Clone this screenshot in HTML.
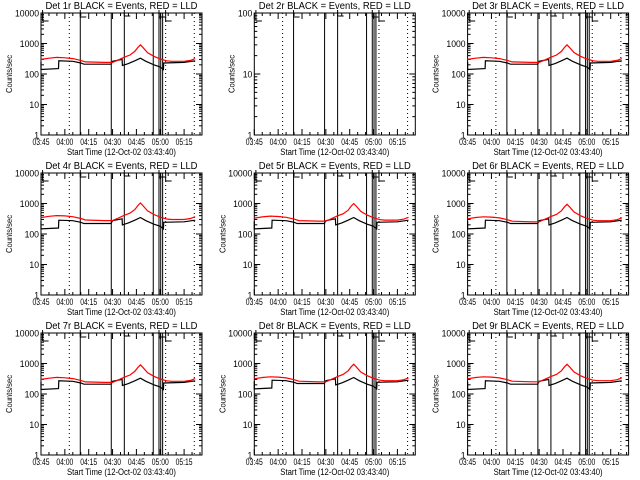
<!DOCTYPE html>
<html><head><meta charset="utf-8"><style>
html,body{margin:0;padding:0;background:#fff;}
svg{display:block;font-family:"Liberation Sans",sans-serif;}
</style></head><body>
<svg id="chart" width="640" height="480" viewBox="0 0 640 480" xmlns="http://www.w3.org/2000/svg"></svg>
<script>
// data (minutes after 03:45)
const panelNames = ["Det 1r","Det 2r","Det 3r","Det 4r","Det 5r","Det 6r","Det 7r","Det 8r","Det 9r"];
const redT = [-1,5,10,15,20,25,28,40,45,48,52,56,59,61,62.5,64,67,71,75,79,82,90,94,97];
const redV = [300,330,350,340,320,280,250,240,240,280,350,420,550,750,900,750,500,380,310,270,260,260,280,320];
const blackT = [-1,-0.6,11,11.2,20,25,27,44,45,51,51.2,55,59,62.5,66,71,75,77,77.2,90,97];
const blackV = [250,140,150,270,260,230,210,210,260,300,190,220,270,330,260,200,170,140,230,240,270];
const redScale = [1,0,1,1.15,1.1,1.05,1,1.05,1.05];
const blackScale = [1,0,1,1.05,1.05,1.05,1,1.05,1];
const solidLines = [24.7,44.2,52.4,70.6,74.2,75.3,76.5];
const dottedLines = [17.8,78.4,96.4];
const xTicks = [0,15,30,45,60,75,90];
const xTickLabels = ["03:45","04:00","04:15","04:30","04:45","05:00","05:15"];

const svg = document.getElementById('chart');
const NS = "http://www.w3.org/2000/svg";
function mk(tag, attrs, parent){const e=document.createElementNS(NS,tag);for(const k in attrs)e.setAttribute(k,attrs[k]);(parent||svg).appendChild(e);return e;}

for(let p=0;p<9;p++){
  const c=p%3, r=Math.floor(p/3);
  const L=41+213.3*c, R=L+161, T=13+160*r, B=T+122;
  const g=mk('g',{});
  
  
  const empty = p===1;
  const decades = empty?2:4;
  const ppd=(B-T)/decades;
  const xs=t=>L+t*1.59;
  const ys=v=>B-Math.log10(v)*ppd;
  const fr=mk('rect',{x:L,y:T,width:R-L,height:B-T,fill:'none',stroke:'#000','stroke-width':1},g);
  
  
  for(let d=0;d<=decades;d++){
    const y=ys(Math.pow(10,d));
    mk('line',{x1:L,x2:L+6,y1:y,y2:y,stroke:'#000'},g);
    mk('line',{x1:R,x2:R-6,y1:y,y2:y,stroke:'#000'},g);
    const s=String(Math.pow(10,d));
    const tl=mk('text',{x:L-2,y:y+3.5,'font-size':9,'text-anchor':'end',textLength:s.length*4.8,lengthAdjust:'spacingAndGlyphs'},g);
    tl.textContent=s;
    
    
    if(d<decades){for(let m=2;m<=9;m++){const ym=ys(m*Math.pow(10,d));
      mk('line',{x1:L,x2:L+3,y1:ym,y2:ym,stroke:'#000'},g);
      mk('line',{x1:R,x2:R-3,y1:ym,y2:ym,stroke:'#000'},g);}}
  }
  for(let m=0;m<=100;m+=5){const x=xs(m);if(x>R)break;const len=m%15===0?6:3;
    mk('line',{x1:x,x2:x,y1:B,y2:B-len,stroke:'#000'},g);
    mk('line',{x1:x,x2:x,y1:T,y2:T+len,stroke:'#000'},g);}
  xTicks.forEach((t,i)=>{const tl=mk('text',{x:xs(t),y:B+10,'font-size':9,'text-anchor':'middle',textLength:17,lengthAdjust:'spacingAndGlyphs'},g);
    tl.textContent=xTickLabels[i];
    
    });
  solidLines.forEach(t=>mk('line',{x1:xs(t),x2:xs(t),y1:T,y2:B,stroke:'#000'},g));
  dottedLines.forEach(t=>mk('line',{x1:xs(t),x2:xs(t),y1:T,y2:B,stroke:'#000','stroke-dasharray':'1,3'},g));
  [[1,8],[24.7,4],[52.4,3],[74.2,4],[78.4,8]].forEach(([t,h])=>{
    mk('line',{x1:xs(t),x2:xs(t),y1:T-3,y2:T+h,stroke:'#000'},g);
    mk('line',{x1:xs(t),x2:xs(t)+6,y1:T+h,y2:T+h,stroke:'#000'},g);});
  if(!empty){
    const bp=blackT.map((t,i)=>xs(t<0?0:t).toFixed(1)+','+ys(blackV[i]*blackScale[p]).toFixed(1)).join(' ');
    const bl=mk('polyline',{points:bp,fill:'none',stroke:'#000','stroke-width':1.2},g);
    
    
    const rp=redT.map((t,i)=>xs(t<0?0:t).toFixed(1)+','+ys(redV[i]*redScale[p]).toFixed(1)).join(' ');
    const rl=mk('polyline',{points:rp,fill:'none',stroke:'#ff0000','stroke-width':1.2},g);
    
    
  }
  const tt=mk('text',{x:(L+R)/2,y:T-4,'font-size':10,'text-anchor':'middle',textLength:152,lengthAdjust:'spacingAndGlyphs'},g);
  tt.textContent=panelNames[p]+' BLACK = Events, RED = LLD';
  
  
  const xt=mk('text',{x:(L+R)/2,y:B+20,'font-size':9,'text-anchor':'middle',textLength:109,lengthAdjust:'spacingAndGlyphs'},g);
  xt.textContent='Start Time (12-Oct-02 03:43:40)';
  
  
  const yx=empty?L-20:L-29, yy=(T+B)/2;
  const yt=mk('text',{x:yx,y:yy,'font-size':8.5,'text-anchor':'middle',textLength:38,lengthAdjust:'spacingAndGlyphs',transform:'rotate(-90 '+yx+' '+yy+')'},g);
  yt.textContent='Counts/sec';
  
  
}
</script>
</body></html>
